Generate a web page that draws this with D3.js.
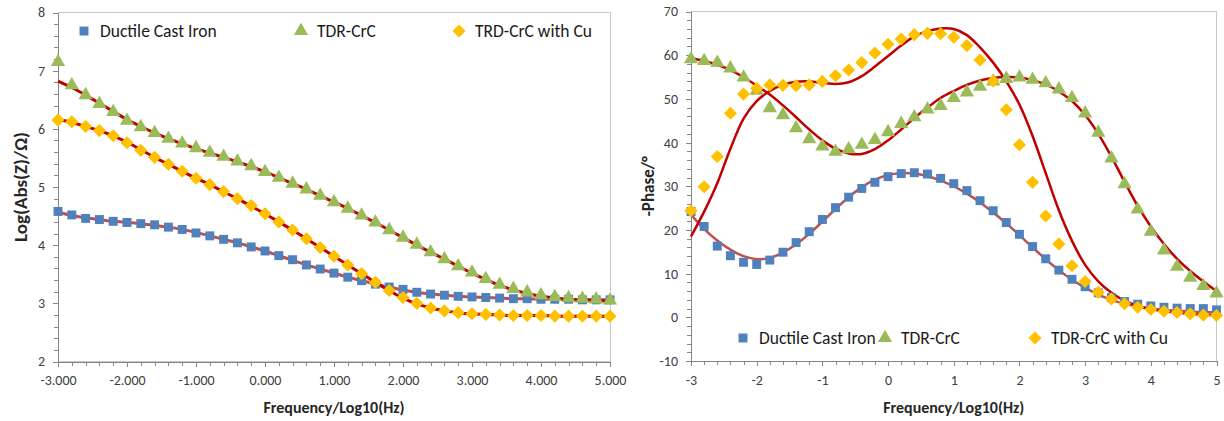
<!DOCTYPE html>
<html>
<head>
    <meta charset="utf-8">
    <title>Bode plots</title>
    <script src="https://d3js.org/d3.v7.min.js"></script>

    <style>
        body { margin:0; background:#fff; }
        text { font-family: Carlito, Calibri, Lato, sans-serif; }
        .axis path, .axis line { stroke:#868686; shape-rendering:crispEdges; }
        .axis text { fill:#404040; font-size:14px; }
        .frame { fill:none; stroke:#c8c8c8; shape-rendering:crispEdges; }
        .title { font-weight:bold; font-size:16px; fill:#262626; }
        .legend text { font-size:17.5px; fill:#1a1a1a; }
    </style>
</head>
<body>

<div id="vis"></div>

<script>

    // frequency grid, log10(Hz)
    var freqs = [-3.0,-2.8,-2.6,-2.4,-2.2,-2.0,-1.8,-1.6,-1.4,-1.2,
        -1.0,-0.8,-0.6,-0.4,-0.2,0.0,0.2,0.4,0.6,0.8,
        1.0,1.2,1.4,1.6,1.8,2.0,2.2,2.4,2.6,2.8,
        3.0,3.2,3.4,3.6,3.8,4.0,4.2,4.4,4.6,4.8,
        5.0];

    var seriesNames = ["Ductile Cast Iron", "TDR-CrC", "TRD-CrC with Cu"];
    var seriesNamesPhase = ["Ductile Cast Iron", "TDR-CrC", "TDR-CrC with Cu"];

    // log|Z| measured
    var magIron = [4.58,4.52,4.46,4.44,4.41,4.39,4.37,4.35,4.31,4.27,
        4.21,4.16,4.10,4.04,3.97,3.90,3.82,3.75,3.66,3.59,
        3.52,3.45,3.39,3.33,3.28,3.24,3.19,3.16,3.14,3.12,
        3.11,3.10,3.09,3.08,3.08,3.07,3.07,3.07,3.06,3.06,
        3.06];
    var magCrC = [7.15,6.75,6.58,6.43,6.29,6.14,6.03,5.93,5.83,5.75,
        5.67,5.59,5.52,5.44,5.36,5.26,5.16,5.06,4.96,4.85,
        4.74,4.63,4.51,4.39,4.26,4.13,4.01,3.88,3.76,3.64,
        3.53,3.42,3.32,3.25,3.19,3.14,3.11,3.09,3.08,3.07,
        3.05];
    var magCrCCu = [6.15,6.12,6.04,5.97,5.88,5.76,5.63,5.51,5.39,5.27,
        5.15,5.04,4.92,4.80,4.68,4.54,4.40,4.26,4.11,3.96,
        3.81,3.66,3.51,3.36,3.22,3.10,3.00,2.92,2.87,2.84,
        2.82,2.81,2.80,2.79,2.79,2.79,2.78,2.78,2.78,2.78,
        2.78];

    // log|Z| fitted
    var magIronFit = [4.57,4.51,4.47,4.44,4.41,4.39,4.37,4.34,4.31,4.27,
        4.22,4.16,4.10,4.04,3.97,3.90,3.82,3.74,3.66,3.59,
        3.52,3.45,3.39,3.33,3.28,3.23,3.19,3.16,3.14,3.12,
        3.11,3.10,3.09,3.08,3.08,3.07,3.07,3.06,3.06,3.06,
        3.06];
    var magCrCFit = [6.82,6.71,6.58,6.44,6.30,6.16,6.04,5.93,5.83,5.74,
        5.66,5.58,5.51,5.43,5.35,5.26,5.16,5.06,4.96,4.85,
        4.74,4.63,4.51,4.39,4.26,4.13,4.00,3.88,3.76,3.64,
        3.52,3.41,3.31,3.23,3.17,3.12,3.09,3.07,3.06,3.05,
        3.04];
    var magCrCCuFit = [6.16,6.11,6.04,5.97,5.88,5.77,5.64,5.51,5.39,5.27,
        5.15,5.04,4.92,4.80,4.67,4.54,4.40,4.26,4.11,3.96,
        3.81,3.66,3.51,3.36,3.22,3.09,2.99,2.92,2.87,2.84,
        2.82,2.81,2.80,2.79,2.79,2.79,2.78,2.78,2.78,2.78,
        2.78];

    // -phase measured
    var phaseIron = [24.2,20.8,16.3,14.1,12.6,12.1,13.1,14.9,17.1,19.6,
        22.4,25.1,27.5,29.5,30.9,32.2,32.9,33.1,32.8,31.8,
        30.6,29.0,26.7,24.4,21.7,19.0,16.2,13.4,10.8,8.7,
        7.0,5.6,4.5,3.6,3.0,2.6,2.3,2.1,2.0,2.0,
        1.7];
    var phaseCrC = [59.1,58.7,58.3,57.0,54.9,51.9,47.9,46.3,43.3,40.8,
        39.1,37.9,38.5,39.5,40.6,42.4,44.3,45.8,47.6,48.4,
        50.2,51.5,52.8,54.0,54.6,54.9,54.4,53.6,52.2,50.2,
        46.7,42.3,36.4,30.5,24.7,19.6,15.3,11.6,9.1,7.2,
        5.5];
    var phaseCrCCu = [24.4,29.9,36.8,46.7,51.1,52.4,53.2,53.1,53.0,53.2,
        54.0,55.3,56.6,58.3,60.5,62.5,63.7,64.7,65.0,64.9,
        64.1,62.2,58.9,54.1,47.5,39.5,30.9,23.2,16.8,11.8,
        8.2,5.7,4.2,3.1,2.3,1.8,1.4,1.1,0.8,0.5,
        0.4];

    // -phase fitted
    var phaseIronFit = [23.5,20.2,17.6,15.5,14.0,13.3,13.6,14.8,16.7,19.1,
        21.9,24.8,27.5,29.8,31.5,32.6,33.0,32.9,32.3,31.3,
        30.0,28.3,26.3,24.0,21.5,18.8,16.0,13.3,10.8,8.6,
        6.8,5.2,4.0,3.1,2.5,2.0,1.7,1.5,1.3,1.2,
        1.1];
    var phaseCrCFit = [59.3,58.7,57.8,56.6,55.0,53.0,51.0,48.5,45.8,43.0,
        40.5,38.6,37.5,37.4,38.5,40.5,43.0,45.6,48.0,50.2,
        51.8,53.2,54.2,54.8,55.0,54.9,54.3,53.3,51.7,49.5,
        46.3,42.0,36.8,31.0,25.5,20.8,16.8,13.4,10.6,8.2,
        6.0];
    var phaseCrCCuFit = [18.5,24.2,30.7,38.6,45.5,49.5,51.8,53.2,53.9,54.0,
        53.7,53.4,53.8,55.2,57.4,59.8,62.2,64.3,65.5,66.1,
        66.0,64.6,61.8,58.3,54.0,48.7,41.5,33.0,24.5,17.5,
        12.0,8.2,5.6,3.8,2.6,1.9,1.4,1.1,0.8,0.6,
        0.5];

    // tick labels
    var magTicks = [2,3,4,5,6,7,8];
    var magTickLabels = ["2","3","4","5","6","7","8"];
    var phaseTicks = [-10,0,10,20,30,40,50,60,70];
    var phaseTickLabels = ["-10","0","10","20","30","40","50","60","70"];
    var freqTicks = [-3,-2,-1,0,1,2,3,4,5];
    var freqTickLabelsMag = ["-3.000","-2.000","-1.000","0.000","1.000","2.000","3.000","4.000","5.000"];
    var freqTickLabelsPhase = ["-3","-2","-1","0","1","2","3","4","5"];

    var colors = ["#4f81bd", "#9bbb59", "#ffc000"];
    var fitColors = ["#c0504d", "#c00000", "#c00000"];
    var symbols = [
        d3.symbol().type(d3.symbolSquare).size(80),
        d3.symbol().type(d3.symbolTriangle).size(88),
        d3.symbol().type(d3.symbolSquare).size(86)
    ];
    var rotations = [0, 0, 45];


    var svg = d3.select("#vis").append("svg")
            .attr("width", 1224)
            .attr("height", 421);

    svg.append("rect").attr("width", 1224).attr("height", 421).attr("fill", "#fff");


    function drawPanel(p) {
        var x = d3.scaleLinear().domain([-3, 5]).range([p.left, p.right]);
        var y = d3.scaleLinear().domain(p.yDomain).range([p.bottom, p.top]);

        var g = svg.append("g");

        // plot area frame
        g.append("rect").attr("class", "frame")
            .attr("x", p.left).attr("y", p.top)
            .attr("width", p.right - p.left).attr("height", p.bottom - p.top);

        // minor ticks first, major ticks with labels on top
        g.append("g").attr("class", "axis")
            .attr("transform", "translate(0," + p.bottom + ")")
            .call(d3.axisBottom(x).tickValues(d3.range(-3, 5.001, 0.2)).tickSize(4).tickFormat(""));
        g.append("g").attr("class", "axis")
            .attr("transform", "translate(0," + p.bottom + ")")
            .call(d3.axisBottom(x).tickValues(freqTicks).tickSize(5).tickSizeOuter(0).tickPadding(9)
                .tickFormat(function(d, i) { return p.xLabels[i]; }));

        g.append("g").attr("class", "axis")
            .attr("transform", "translate(" + p.left + ",0)")
            .call(d3.axisLeft(y).tickValues(d3.range(p.yDomain[0], p.yDomain[1] + 1e-6, p.yMinor)).tickSize(4).tickFormat(""));
        g.append("g").attr("class", "axis")
            .attr("transform", "translate(" + p.left + ",0)")
            .call(d3.axisLeft(y).tickValues(p.yTicks).tickSize(5).tickSizeOuter(0).tickPadding(8)
                .tickFormat(function(d, i) { return p.yLabels[i]; }));

        // fitted curves
        var line = d3.line()
            .x(function(d, i) { return x(freqs[i]); })
            .y(function(d) { return y(d); })
            .curve(d3.curveCatmullRom);

        p.fits.forEach(function(f, k) {
            g.append("path")
                .attr("d", line(f))
                .attr("fill", "none")
                .attr("stroke", fitColors[k])
                .attr("stroke-width", p.lineWidth);
        });

        // measured points
        p.series.forEach(function(s, k) {
            g.selectAll(".pt" + k).data(s).enter().append("path")
                .attr("class", "pt" + k)
                .attr("d", symbols[k])
                .attr("fill", colors[k])
                .attr("transform", function(d, i) {
                    return "translate(" + x(freqs[i]) + "," + y(d) + ") rotate(" + rotations[k] + ")";
                });
        });

        // legend
        var lg = g.append("g").attr("class", "legend");
        p.names.forEach(function(n, k) {
            lg.append("path")
                .attr("d", symbols[k])
                .attr("fill", colors[k])
                .attr("transform", "translate(" + p.legendX[k] + "," + p.legendY + ") rotate(" + rotations[k] + ")");
            lg.append("text")
                .attr("x", p.legendX[k] + 16).attr("y", p.legendY)
                .attr("dy", "0.35em")
                .text(n);
        });

        // axis titles
        g.append("text").attr("class", "title")
            .attr("text-anchor", "middle")
            .attr("x", (p.left + p.right) / 2).attr("y", 413)
            .text("Frequency/Log10(Hz)");
        g.append("text").attr("class", "title")
            .attr("text-anchor", "middle")
            .style("font-size", p.yTitleSize + "px")
            .attr("transform", "translate(" + p.yTitleX + "," + ((p.top + p.bottom) / 2) + ") rotate(-90)")
            .text(p.yTitle);
    }


    drawPanel({
        left: 58, right: 610, top: 12.5, bottom: 361.5,
        yDomain: [2, 8], yTicks: magTicks, yLabels: magTickLabels, yMinor: 0.2,
        xLabels: freqTickLabelsMag,
        series: [magIron, magCrC, magCrCCu],
        fits: [magIronFit, magCrCFit, magCrCCuFit],
        lineWidth: 3,
        names: seriesNames, legendX: [84, 301, 459], legendY: 31,
        yTitle: "Log(Abs(Z)/\u03a9)", yTitleX: 27, yTitleSize: 19
    });

    drawPanel({
        left: 691, right: 1216.5, top: 11.5, bottom: 361,
        yDomain: [-10, 70], yTicks: phaseTicks, yLabels: phaseTickLabels, yMinor: 2,
        xLabels: freqTickLabelsPhase,
        series: [phaseIron, phaseCrC, phaseCrCCu],
        fits: [phaseIronFit, phaseCrCFit, phaseCrCCuFit],
        lineWidth: 2.5,
        names: seriesNamesPhase, legendX: [743, 885, 1035], legendY: 338,
        yTitle: "-Phase/\u00b0", yTitleX: 654, yTitleSize: 17
    });

</script>

</body>
</html>
